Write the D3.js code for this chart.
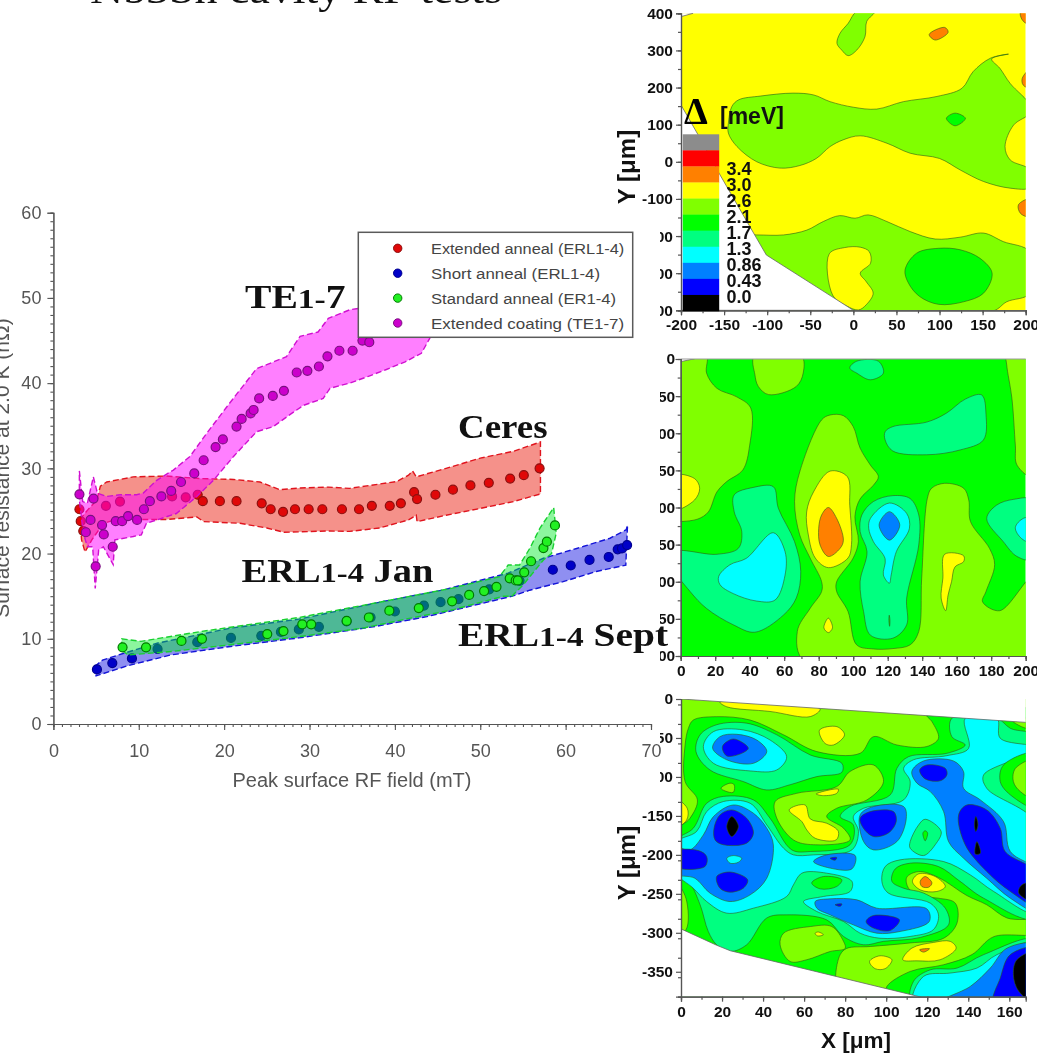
<!DOCTYPE html>
<html><head><meta charset="utf-8">
<script src="https://cdn.jsdelivr.net/npm/d3@7"></script>
<style>html,body{margin:0;padding:0;background:#fff;overflow:hidden}svg{display:block;filter:blur(.4px)}</style>
</head><body><svg id="c" width="1037" height="1055"></svg>
<script>
// ---------- left chart data: [peak field mT, surface resistance nOhm]
const redPts=[[3.05,25.2],[3.2,23.8],[3.5,22.65],[6.15,25.6],[7.8,26.1],[13.9,26.7],[15.5,26.6],[16.9,26.9],[17.5,26.15],[19.5,26.15],[21.45,26.15],[24.4,25.9],[25.45,25.2],[26.9,24.9],[28.3,25.2],[29.9,25.2],[31.5,25.2],[33.8,25.2],[35.8,25.2],[37.3,25.6],[39.4,25.6],[40.7,25.9],[42.25,27.2],[42.6,26.4],[44.75,26.9],[46.8,27.5],[48.85,28],[51,28.3],[53.5,28.8],[55.1,29.2],[56.95,30]];
const bluePts=[[5.1,6.4],[6.9,7.15],[9.2,7.7],[12.2,8.8],[16.85,9.6],[20.8,10.1],[24.35,10.35],[26.65,10.8],[28.75,11.1],[31.1,11.4],[34.35,12.05],[37.15,12.5],[40,13.2],[43.4,13.9],[45.35,14.3],[47.45,14.65],[51.05,15.8],[54.6,16.8],[58.5,18.1],[60.6,18.6],[62.8,19.25],[65.05,19.6],[66.1,20.5],[66.6,20.6],[67.2,21]];
const greenPts=[[8.1,9],[10.85,9],[15,9.75],[17.4,10],[25.05,10.55],[26.95,10.9],[29.15,11.7],[30.2,11.7],[34.35,12.1],[36.95,12.5],[39.35,13.3],[42.8,13.6],[46.7,14.4],[48.7,15.15],[50.45,15.6],[51.9,16.1],[53.45,17.1],[54.15,16.85],[54.4,16.85],[55.15,17.8],[55.95,19.1],[57.4,20.65],[57.8,21.4],[58.75,23.3]];
const magentaPts=[[3.05,26.95],[3.8,22.5],[4.35,23.95],[4.7,26.45],[4.95,18.5],[5.7,23.35],[5.9,22.25],[6.95,20.8],[7.3,23.8],[8.05,23.8],[8.75,24.4],[9.8,23.95],[10.6,25.2],[11.3,26.15],[12.65,26.7],[13.8,27.35],[14.95,28.4],[16.5,29.4],[17.6,30.95],[19,32.5],[19.85,33.4],[21.45,34.9],[22.05,35.8],[23.1,36.45],[23.45,36.85],[24.1,38.2],[25.7,38.5],[27,39.1],[28.5,41.25],[29.75,41.45],[31.1,41.95],[32.1,43.15],[33.5,43.8],[35.05,43.8],[36.2,45],[37,44.8]];
const redBand=[[3.1,24],[4,25.1],[5.1,26.3],[5.5,27.9],[6.25,28.4],[9.35,29],[13.25,29.1],[17.2,28.8],[21.1,28.7],[24.2,28.4],[26.5,27.5],[28.9,27.7],[32.2,27.8],[34.7,27.65],[37.1,28],[40.2,28.45],[41.6,29.2],[42.07,29.7],[42.5,29],[46,30],[50,31.2],[53.9,32],[57.05,33.1],[57.05,27],[53.9,26.1],[50,25.3],[46,24.5],[42.6,23.75],[42.5,24.5],[41.6,23.95],[38.2,23],[34.7,22.6],[32.2,22.65],[27,22.5],[25,23],[21.85,23.55],[17.6,23.75],[16.8,24.3],[13.25,24],[7.4,24],[5.85,23.55],[4.5,21.6],[3.7,20.2],[3.3,21.6]];
const blueBand=[[4.85,6.75],[5.75,7.5],[8.25,8.3],[12.25,9.5],[20.75,11.25],[28.75,12.3],[38.75,14.4],[45.75,15.75],[53.25,17.7],[57.4,19.45],[61.3,20.6],[65.2,21.8],[67.1,22.8],[67.25,23.35],[67.05,18.65],[63.6,17.9],[59.7,16.7],[55.8,15.7],[53.75,15],[48.75,13.8],[43.75,12.6],[37.75,11.45],[28.75,10.1],[20.75,9.1],[13.75,8.1],[8.75,6.85],[5,5.65]];
const greenBand=[[8,10],[10.25,9.7],[17.25,10.85],[28.75,12.5],[38.75,14.4],[46.75,15.95],[52.25,17.3],[53.27,18.65],[54.6,18.65],[55.8,20.6],[57,23],[58.6,25.4],[58.9,22.4],[58.35,20],[57.4,19.25],[55,16.3],[53.7,15],[52.75,15],[46.75,13.4],[41.25,12.3],[36.25,11.25],[28.75,10.25],[20.75,9.3],[13.75,8.5],[8.75,8.1],[8,8.7]];
const magentaBand=[[3.04,29.7],[3.43,26.1],[3.98,25.9],[4.68,29],[5.15,27.1],[6.24,26.7],[7.8,26.9],[9.75,26.9],[10.53,27.1],[12.1,28.6],[14.05,29.8],[16,31.4],[17.95,34.1],[20.3,37.2],[21.85,39.2],[23.8,41.7],[27.3,43.1],[28.9,45.5],[31,46],[32.2,47.6],[34.7,48.6],[35.9,48.8],[40,50],[44,50],[44.1,45.3],[43.1,43.5],[41.2,42.5],[39,41.6],[36.9,40.8],[34.7,40],[32.4,39.4],[31.6,38.2],[29.3,37.4],[27.7,36.3],[25.75,34.9],[23.8,34.3],[21.1,31.4],[18.75,28.6],[16.8,26.7],[14.4,24.7],[10.9,23.55],[10.3,22.2],[9.35,22],[7.2,21.6],[7,18.7],[5.85,20.8],[5.3,20.4],[4.9,15.9],[4.6,20.8],[3.98,20.8],[3.5,22.4],[3.04,26.3]];
const seriesNames=["Extended anneal (ERL1-4)","Short anneal (ERL1-4)","Standard anneal (ER1-4)","Extended coating (TE1-7)"];
const xTicks=[0,10,20,30,40,50,60,70], yTicks=[0,10,20,30,40,50,60];
const minorX=d3.range(0,71), minorY=d3.range(0,61);
const seriesFill=["#e00808","#0000c8","#22f022","#cc00cc"];
const seriesStroke=["#8c1010","#000090","#007a00","#7a1080"];
const bandFill=["rgba(235,45,30,.52)","rgba(20,20,225,.48)","rgba(0,235,40,.45)","rgba(255,0,255,.5)"];
const bandStroke=["#e0141e","#1414d8","#18d030","#d010d0"];

// ---------- gap map data
const levelNames=["gray","red","orange","yellow","lime","green","spring","cyan","azure","blue","black"];
const levelColors=["#8c8c8c","#ff0000","#ff8000","#ffff00","#80ff00","#00ff00","#00ff80","#00ffff","#0080ff","#0000ff","#000000"];
const levelLabels=["3.4","3.0","2.6","2.1","1.7","1.3","0.86","0.43","0.0"];
const L={orange:2,yellow:3,lime:4,green:5,spring:6,cyan:7,azure:8,blue:9,black:10};

const map1Base=L.yellow;
const map1Regions=[
 [L.lime,[[3.9,405],[25,405],[15.5,378],[13.5,337],[4,301],[-6,286],[-13.5,301],[-19,319],[-15.5,346],[-6,373]]],
 [L.lime,[[-145,104],[-141,149],[-133,167],[-108,177],[-70,185],[-46,180],[-27,162],[0,147],[27,142],[58,162],[97,176],[126,198],[139,243],[159,279],[180,290],[160.5,277],[170,252],[182,211],[205,153],[205,131],[186,99],[176,41],[182,5],[205,-22],[205,-69],[182,-71],[151,-53],[124,-22],[100,9],[66,23],[39,50],[8,70],[-12,59],[-27,41],[-43,9],[-62,-10],[-85,-17],[-112,0],[-135,41],[-145,77]]],
 [L.lime,[[-135,-197],[-112,-197],[-81,-197],[-54,-184],[-35,-161],[-16,-145],[2,-152],[17,-143],[39,-161],[66,-188],[95,-208],[124,-203],[151,-192],[174,-215],[205,-243],[205,-354],[178,-377],[162,-402],[40,-410],[-50,-410],[-135,-410]]],
 [L.yellow,[[-28,-248],[-10,-231],[8,-230],[18.5,-242],[20,-273],[8,-300],[15,-323],[23,-354],[15,-385],[6,-399],[-8,-388],[-24,-359]]],
 [L.green,[[60,-291],[73.5,-246],[99,-233],[124,-237],[147,-260],[161,-300],[151,-354],[128,-377],[99,-384],[77,-363],[64,-327]]],
 [L.green,[[108,117],[118,131],[130,117],[118,97]]],
 [L.orange,[[88,343],[106,362],[110,349],[95,328]]],
 [L.orange,[[194,405],[205,405],[205,369],[196,382]]],
 [L.orange,[[196,225],[205,249],[205,198],[197,207]]],
 [L.orange,[[191.5,-116],[205,-100],[205,-148],[194,-139]]]
];
const map1Outside=[[[-205,153],[-200,153],[-180,72],[-157,-26],[-120,-175],[-101,-251],[-25,-363],[0,-400],[-205,-400]],[[-205,405],[-186,400],[-200,391],[-205,391]]];

const map2Base=L.green;
const map2Regions=[
 [L.lime,[[-3,-3],[7.3,0],[15,3],[15,-19],[21,-39.5],[32.5,-51],[40.6,-66],[40,-116],[36,-149.5],[26.7,-165],[21,-179],[16,-206],[10,-215.5],[0,-219],[-4,-219]]],
 [L.yellow,[[-4,-157],[8,-161],[11,-174],[8,-190],[-4,-203]]],
 [L.lime,[[42.7,4],[70,4],[71,-19],[67,-37],[51,-48],[45,-37],[43,-21]]],
 [L.spring,[[98,-12],[102,-3],[114.6,-3],[117.5,-19],[110,-28],[102,-19]]],
 [L.spring,[[118.5,-98],[123,-91],[142.6,-85],[154,-73],[165,-54],[174.5,-48.5],[177,-75],[175.5,-109],[162,-122.5],[142.6,-129],[123,-124],[118.5,-109]]],
 [L.lime,[[189,4],[205,4],[205,-160],[195,-143],[194,-116],[192,-53],[189,-8]]],
 [L.lime,[[86.6,-75.4],[94.3,-76.3],[100,-91],[104,-120],[110,-143],[114.6,-158.5],[111.7,-170],[104,-188.5],[101,-212],[103,-246],[100,-268],[90.4,-300],[90.4,-313],[97,-340],[102,-385],[111.7,-390.5],[123,-390],[133,-385],[138,-367],[139.7,-295],[143,-187.6],[145.5,-174],[153,-167.4],[164,-174],[167,-190],[168,-219],[179,-255],[182,-277],[177,-313],[175,-327],[185,-339],[205,-292],[205,-408],[72,-408],[67.6,-367],[75,-336],[81.7,-313],[81.7,-300],[75,-268],[69,-237],[66,-192],[69,-152],[81.7,-82]]],
 [L.yellow,[[86.6,-151],[96.6,-158.5],[98,-197],[99,-250],[97,-268],[85.6,-281],[78,-268],[74,-237],[73,-206],[77,-179]]],
 [L.orange,[[85.6,-200],[90.4,-214.6],[94.3,-244],[92.4,-255],[85.6,-266],[80.8,-250.5],[80,-228],[81.7,-210]]],
 [L.yellow,[[85.6,-349],[88,-362],[85.6,-368.5],[83,-362]]],
 [L.spring,[[-4,-260],[21,-263],[33.4,-255],[35.4,-232.5],[31,-205.6],[31,-183],[42,-173],[53.7,-172],[56.6,-201],[66,-246],[69.6,-286],[67,-322],[59.5,-345],[43,-368],[30.5,-358],[15,-336],[5.4,-313],[-4,-282]]],
 [L.cyan,[[22,-293],[28.6,-277],[38,-268.5],[53.7,-234],[60.5,-259.5],[60.5,-291],[54.7,-324.6],[44,-326],[30.5,-316],[22.8,-304]]],
 [L.spring,[[105,-210],[111.7,-192],[123,-184],[133,-188],[138,-210],[138,-250.5],[131,-322],[131,-358],[123,-376],[110,-372],[106,-340],[104,-300],[108,-259.5],[104,-232.5]]],
 [L.cyan,[[110,-214.6],[121,-194],[131,-208],[132.6,-228],[125,-259.5],[122,-291],[121,-302],[117.5,-291],[118.5,-269],[111.7,-246],[109,-228]]],
 [L.azure,[[121,-205.6],[127,-223.5],[121,-244],[115,-223.5]]],
 [L.green,[[120.9,-345],[121.3,-352],[121.1,-360],[120.7,-352]]],
 [L.spring,[[177.4,-215],[183,-197],[193,-189],[205,-190],[205,-270],[195,-266],[187,-246]]],
 [L.cyan,[[194,-227],[198.7,-214.6],[205,-214],[205,-248],[197.7,-242]]],
 [L.yellow,[[153,-263],[164,-265],[164,-273],[159,-280],[157,-300],[155,-318],[153.6,-339],[151,-322],[152,-295]]]
];
const map2Outside=[[[-4,4],[7,4],[7.3,0],[0,-3.6],[-4,-3.6]]];

const map3Base=L.lime;
const map3Regions=[
 [L.yellow,[[19,-4],[67.8,-13],[63,-22.6],[43.4,-16],[22.3,-10]]],
 [L.yellow,[[67.5,-40],[76,-35.5],[79.7,-46],[74.3,-59],[70.2,-57]]],
 [L.yellow,[[-3,-128],[3,-140],[2.8,-155],[-3,-166]]],
 [L.green,[[3.6,-37.6],[6,-27],[17.4,-22.7],[33.7,-27],[50,-46],[66.2,-67.5],[87.3,-69.7],[93.8,-48.3],[105.2,-59],[119.8,-61],[125.5,-50.4],[122.3,-29],[119.8,-20.5],[174,-20.5],[174,-392],[-4,-392],[-4,-174.4],[4.4,-153],[8,-129.5],[2,-106],[2,-59]]],
 [L.lime,[[-3,-234],[2.4,-255.6],[2.4,-296],[-3,-300]]],
 [L.lime,[[75.4,-354],[77.6,-328],[80.8,-320],[92.2,-317.6],[111.7,-313],[128,-307],[134.5,-287.6],[133.7,-262],[125.5,-255.6],[116.6,-253.4],[110.9,-242.8],[110,-229],[115.8,-221.4],[125.5,-229],[139.3,-252.2],[149,-264],[158.9,-281],[174,-286],[174,-300.5],[152.4,-305],[141.8,-328],[128,-341],[111.7,-349.6],[100.3,-369],[100,-380],[76,-365]]],
 [L.lime,[[48.3,-315.4],[50,-300.5],[63,-292],[73.5,-292],[79.2,-311],[80,-320],[72.7,-324],[61.3,-334.6],[53.2,-336.8]]],
 [L.yellow,[[65.4,-300.5],[67,-299],[69.4,-302.6],[66.5,-304]]],
 [L.lime,[[161.3,-27],[174,-27],[174,-39.7],[166,-35.5]]],
 [L.lime,[[19.5,-114.5],[23.9,-108],[25.9,-110],[25.5,-119.7],[21.5,-118]]],
 [L.lime,[[45.9,-131.6],[56.4,-121],[75.9,-112.4],[82.4,-93],[93.8,-84.6],[98.7,-106],[90.6,-129.5],[75.9,-140.2],[71,-150.9],[79.2,-165.8],[82.4,-180.8],[64.6,-187],[54.8,-180.8],[46.7,-153]]],
 [L.yellow,[[52.7,-142.3],[60.5,-136],[63,-153.9],[71,-159.4],[76.7,-170],[75.6,-180.8],[65.4,-178.7],[61.3,-168],[58.9,-157.3]]],
 [L.yellow,[[65.9,-121.8],[76.7,-115.8],[75.9,-121],[69.4,-124]]],
 [L.yellow,[[91.9,-336.8],[97,-329.5],[102.8,-334.6],[99.5,-346],[94.6,-346]]],
 [L.yellow,[[108.1,-334.6],[112.5,-319.7],[123,-312.4],[131.2,-311],[134.1,-319.7],[126.3,-334.6],[115,-336]]],
 [L.orange,[[116.3,-321.8],[121.1,-320.5],[118.2,-324.8]]],
 [L.yellow,[[112.8,-234],[115.8,-224.4],[123.9,-227.8],[128.8,-240.6],[124.7,-247],[116.6,-244.9]]],
 [L.orange,[[116.6,-234],[119,-227.8],[122.3,-236],[120.7,-241.5],[117.4,-240.6]]],
 [L.spring,[[-3,-183],[6,-165.8],[12.5,-133.8],[20.6,-125],[35.3,-129.5],[43.4,-153],[54,-193.6],[63,-195.7],[82.4,-187],[84,-161.6],[77.6,-150.9],[82.4,-138],[102,-123],[105.2,-89],[110.9,-74],[129.6,-69.7],[138.5,-59],[132,-48.3],[132,-24.8],[154,-24.8],[160.5,-37.6],[174,-50.4],[174,-281],[147.5,-255.6],[136,-234],[125.5,-215],[111.7,-210.7],[104.4,-218],[102.8,-234],[108.5,-242.8],[118.2,-249],[128.8,-268.4],[130.4,-289.8],[116.6,-306],[98.7,-311],[89,-315.4],[79.2,-304.7],[71,-283.4],[51.5,-277],[41.8,-281],[32,-315.4],[24,-324],[17.4,-315.4],[13.3,-298.3],[9.3,-264],[3.6,-234],[-3,-225.7]]],
 [L.green,[[63.7,-236],[69.4,-227.8],[78.4,-232],[75.9,-240.6],[67.8,-243.6]]],
 [L.cyan,[[-3,-185],[7.6,-170],[12.5,-144.5],[20.6,-131.6],[33.7,-133.8],[41.8,-161.6],[50,-191.5],[54.8,-200],[64.6,-200],[83.3,-193.6],[86.5,-170],[84,-150.9],[89,-140.2],[108.5,-129.5],[111.7,-106],[108.5,-89],[113.3,-78],[129.6,-72.7],[140.2,-63.3],[138.5,-24.8],[154,-24.8],[155.6,-50.4],[174,-63.3],[147.5,-97.4],[149,-114.5],[174,-161.6],[174,-274.8],[152.4,-247],[141,-225.7],[128,-208.6],[106.8,-206.4],[99.5,-215],[97.9,-234],[101,-249],[121.5,-262],[125.5,-277],[123,-296],[111.7,-304.7],[97,-307],[87.3,-300.5],[79.2,-285.5],[66.2,-272.7],[59.7,-259.9],[69.4,-253.4],[82.4,-247],[83.3,-234],[71,-223.5],[58.9,-223.5],[54.8,-238.5],[51.5,-253.4],[35.3,-268.4],[22.3,-274.8],[12.5,-259.9],[6,-242.8],[-3,-221.4]]],
 [L.green,[[155.6,-106],[157.2,-84.6],[174,-69.7],[174,-140],[160.5,-123]]],
 [L.lime,[[162,-106],[163,-89],[174,-77],[174,-129.5],[165.4,-118.8]]],
 [L.spring,[[7.3,-67.5],[9.3,-46],[17.4,-33],[32,-31],[46.7,-46],[63,-71.8],[78.4,-82.5],[78.4,-94],[66.2,-99.6],[53.2,-110],[41.8,-116.7],[30.4,-106],[14.1,-91]]],
 [L.cyan,[[10.9,-61],[15.8,-41.9],[30.4,-39.7],[43.4,-52.6],[51.5,-74],[46.7,-91],[33.7,-92.3],[15.8,-82.5]]],
 [L.azure,[[15.4,-63],[19,-48.3],[27.2,-45.3],[36.9,-52.6],[41.8,-67.5],[35.3,-82.5],[22.3,-78]]],
 [L.blue,[[20.2,-61],[25.5,-51.3],[32.8,-63],[29.6,-69.7],[22.3,-73]]],
 [L.azure,[[87.3,-148.7],[93.8,-138],[108.5,-138],[109.8,-153],[105.2,-183],[93.8,-193.6],[89,-183]]],
 [L.blue,[[87.3,-153],[92.2,-144.5],[103.6,-144.5],[104.9,-157.3],[101.1,-172],[93.8,-176.5],[88.9,-165.8]]],
 [L.azure,[[64.6,-208.6],[71,-200],[84.9,-200.9],[83.3,-218],[72.7,-217]]],
 [L.blue,[[72.7,-204.3],[75.9,-203.4],[75.1,-206.9]]],
 [L.spring,[[111.7,-183],[115.8,-161.6],[119,-154.3],[126.8,-170],[123.9,-187],[118.2,-200.9],[111.7,-191.5]]],
 [L.green,[[117.9,-172],[119,-169],[120.2,-172],[119,-182]]],
 [L.azure,[[112.5,-93],[118.2,-79.5],[132.8,-79.5],[137.7,-93],[137.7,-114.5],[145.9,-129.5],[157.2,-157.3],[160.5,-195.7],[174,-221.4],[174,-272.7],[160.5,-255.6],[149,-230],[137.7,-204.3],[130.4,-183],[128,-144.5],[121.5,-118.8],[115,-108]]],
 [L.blue,[[116.3,-91],[119.8,-84.6],[128.8,-88.9],[129.6,-97.4],[126.3,-105],[119,-102.6]]],
 [L.blue,[[135.3,-148.7],[139.3,-136],[149,-142.3],[155.6,-165.8],[158,-195.7],[174,-223.5],[174,-266],[160.5,-247],[149,-221.4],[138.5,-187]]],
 [L.black,[[143.7,-150.9],[144.7,-161.6],[143.7,-170],[143,-161.6]]],
 [L.black,[[144.2,-183],[145.9,-197.9],[143.4,-199]]],
 [L.black,[[174,-236],[166.2,-238.5],[164.6,-249],[174,-262]]],
 [L.azure,[[-3,-190.6],[4.4,-193.6],[10.9,-174.4],[15.8,-150.9],[25.5,-136],[35.3,-146.6],[41.8,-165.8],[45,-187],[41.8,-230],[33.7,-251.3],[23.9,-259.9],[14.1,-249],[6.8,-230],[-3,-223.5]]],
 [L.blue,[[16.1,-165.8],[19,-148.7],[24.7,-142.3],[32,-153],[35.3,-172],[32,-185],[20.6,-187],[16.6,-180.8]]],
 [L.black,[[24.7,-150.9],[28,-163.7],[24.7,-176.5],[22.3,-163.7]]],
 [L.cyan,[[22.3,-204.3],[25.5,-200.9],[29.6,-204.3],[28,-209.4],[23.9,-210.7]]],
 [L.blue,[[-3,-195.7],[8.5,-194.5],[12.5,-202],[11.7,-215],[-3,-215]]],
 [L.blue,[[17.4,-227.8],[23.9,-222],[32.5,-232],[30.4,-242.8],[23.9,-247.9],[19,-242.8]]],
 [L.azure,[[65.4,-259.9],[72.7,-256.4],[85.7,-257.7],[95.4,-268.4],[119.8,-269.3],[121,-285.5],[106.8,-298.3],[95.4,-300.5],[84,-289.8],[72.7,-277],[66.2,-268.4]]],
 [L.blue,[[90.2,-285.5],[93.8,-277.8],[106.5,-283.4],[102,-297],[93.8,-294]]],
 [L.blue,[[75.1,-264],[78.4,-263],[77.6,-266]]],
 [L.spring,[[112.5,-390],[113.3,-362.4],[121.5,-347.5],[134.5,-345.3],[147.5,-328],[174,-309],[174,-392]]],
 [L.cyan,[[113.3,-390],[118.2,-356],[131.2,-351.7],[144.2,-345.3],[154,-328],[174,-313],[174,-392]]],
 [L.azure,[[125.5,-390],[141,-368.8],[150.7,-345.3],[158.9,-319.7],[174,-316],[174,-392]]],
 [L.blue,[[152.4,-390],[155.6,-358],[160.5,-328],[174,-319.7],[174,-392]]],
 [L.black,[[174,-324],[163.7,-334.6],[162,-353.9],[164.6,-375],[174,-392]]]
];
const map3Outside=[[[-4,0],[0,0],[168,-30],[174,-30],[174,8],[-4,8]],[[-4,-293],[0,-295],[17.4,-316],[24,-323],[117,-382.5],[117,-392],[-4,-392]]];

const map1XTicks=[-200,-150,-100,-50,0,50,100,150,200], map1YTicks=[400,300,200,100,0,-100,-200,-300,-400];
const map2XTicks=[0,20,40,60,80,100,120,140,160,180,200], map2YTicks=[0,-50,-100,-150,-200,-250,-300,-350,-400];
const map3XTicks=[0,20,40,60,80,100,120,140,160], map3YTicks=[0,-50,-100,-150,-200,-250,-300,-350];

// ---------- drawing
const svg=d3.select("#c");
const sans="'Liberation Sans',Arial,sans-serif", serif="'Liberation Serif',serif";

function drawMap(id,box,xDom,yDom,base,regions,outside,xMaj,yMaj,xStep,yStep,tickOpts){
  const x=d3.scaleLinear().domain(xDom).range([box.l,box.r]);
  const y=d3.scaleLinear().domain(yDom).range([box.t,box.b]);
  const g=svg.append("g");
  const defs=g.append("defs");
  defs.append("clipPath").attr("id",id).append("rect").attr("x",box.l).attr("y",box.t).attr("width",box.r-box.l).attr("height",box.b-box.t);
  const plot=g.append("g").attr("clip-path",`url(#${id})`);
  plot.append("rect").attr("x",box.l).attr("y",box.t).attr("width",box.r-box.l).attr("height",box.b-box.t).attr("fill",levelColors[base]);
  const smooth=d3.line().x(d=>x(d[0])).y(d=>y(d[1])).curve(d3.curveCatmullRomClosed.alpha(.5));
  const straight=d3.line().x(d=>x(d[0])).y(d=>y(d[1])).curve(d3.curveLinearClosed);
  plot.selectAll("path.r").data(regions).join("path").attr("class","r")
    .attr("d",d=>smooth(d[1])).attr("fill",d=>levelColors[d[0]])
    .attr("stroke","#2f5a18").attr("stroke-width",.7).attr("stroke-opacity",.85);
  plot.selectAll("path.o").data(outside).join("path").attr("class","o")
    .attr("d",d=>straight(d)).attr("fill","#fff").attr("stroke","#666").attr("stroke-width",.8);
  g.append("path").attr("d",`M${box.l},${box.t}H${box.r}`).attr("stroke","#9a9a9a").attr("stroke-width",tickOpts.top?1:0);
  const ax=d3.axisBottom(x).tickValues(xMaj).tickSize(5).tickFormat(d=>String(d));
  const axM=d3.axisBottom(x).tickValues(d3.range(xDom[0],xDom[1]+.01,xStep)).tickSize(3).tickFormat("");
  const ay=d3.axisLeft(y).tickValues(yMaj).tickSize(5).tickFormat(d=>String(d));
  const ayM=d3.axisLeft(y).tickValues(d3.range(yDom[1],yDom[0]+.01,yStep)).tickSize(3).tickFormat("");
  const st=s=>{s.selectAll(".domain,line").attr("stroke","#555").attr("stroke-width",1.2);
    s.selectAll("text").attr("fill","#111").attr("font-family",sans).attr("font-size",15.5).attr("font-weight","bold");};
  g.append("g").attr("transform",`translate(0,${box.b})`).call(axM).call(st);
  g.append("g").attr("transform",`translate(0,${box.b})`).call(ax).call(st).selectAll("text").attr("dy",0).attr("y",20).attr("dominant-baseline","auto");
  g.append("g").attr("transform",`translate(${box.l},0)`).call(ayM).call(st);
  g.append("g").attr("transform",`translate(${box.l},0)`).call(ay).call(st).selectAll("text").attr("x",tickOpts.pad);
  return {x,y,g};
}

const m1=drawMap("m1",{l:681,r:1025.7,t:13.3,b:310.3},[-200,200],[400,-400],map1Base,map1Regions,map1Outside,map1XTicks,map1YTicks,25,50,{pad:-8});
const m2=drawMap("m2",{l:680.7,r:1025.7,t:359,b:656},[0,200],[0,-400],map2Base,map2Regions,map2Outside,map2XTicks,map2YTicks,10,25,{top:1,pad:-5.5});
const m3=drawMap("m3",{l:681,r:1025.7,t:699,b:996.7},[0,168],[0,-382],map3Base,map3Regions,map3Outside,map3XTicks,map3YTicks,10,25,{pad:-8});

// colour legend in the top map
const legScale=d3.scaleBand().domain(levelNames).range([134.3,311]).padding(0);
const leg=svg.append("g");
leg.selectAll("rect").data(levelNames).join("rect")
  .attr("x",682.7).attr("width",36.5).attr("y",d=>legScale(d)).attr("height",legScale.bandwidth()+.3)
  .attr("fill",(d,i)=>levelColors[i]);
const labelY=d3.scalePoint().domain(levelLabels).range([174.5,302.5]);
leg.selectAll("text").data(levelLabels).join("text")
  .attr("x",726.5).attr("y",d=>labelY(d)).text(d=>d)
  .attr("font-family",sans).attr("font-weight","bold").attr("font-size",18).attr("fill","#111");
svg.append("text").attr("x",684).attr("y",124).text("Δ").attr("font-family",serif).attr("font-weight","bold").attr("font-size",38).attr("fill","#000");
svg.append("text").attr("x",720).attr("y",124).text("[meV]").attr("font-family",sans).attr("font-weight","bold").attr("font-size",23).attr("fill","#111");

const axisLab=(t,x,y,rot,s)=>svg.append("text").attr("transform",`translate(${x},${y}) rotate(${rot})`).attr("text-anchor","middle").text(t)
  .attr("font-family",sans).attr("font-weight","bold").attr("font-size",s).attr("fill","#111");
axisLab("Y [μm]",635,167,-90,24);
axisLab("Y [μm]",635,863,-90,24);
axisLab("X [μm]",856,1048,0,22.5);

// white backdrop of the pasted left chart, it hides the start of the tick labels
svg.append("rect").attr("x",0).attr("y",206).attr("width",660).attr("height",590).attr("fill","#fff");

// title clipped by the top edge
svg.append("text").attr("x",90).attr("y",3).attr("textLength",412).attr("lengthAdjust","spacingAndGlyphs")
  .text("Nb3Sn cavity RF tests").attr("font-family",serif).attr("font-size",40).attr("fill","#111");

// left chart
const xS=d3.scaleLinear().domain([0,70]).range([53.4,651]);
const yS=d3.scaleLinear().domain([0,60]).range([724,212.7]);
const chart=svg.append("g");
const styleAxis=s=>{s.selectAll(".domain,line").attr("stroke","#555").attr("stroke-width",1.1);
  s.selectAll("text").attr("fill","#555").attr("font-family",sans).attr("font-size",18);};
chart.append("g").attr("transform","translate(0,724)").call(d3.axisBottom(xS).tickValues(minorX).tickSize(3).tickFormat("")).call(styleAxis);
chart.append("g").attr("transform","translate(0,724)").call(d3.axisBottom(xS).tickValues(xTicks).tickSize(6).tickPadding(14)).call(styleAxis);
chart.append("g").attr("transform","translate(53.4,0)").call(d3.axisLeft(yS).tickValues(minorY).tickSize(3).tickFormat("")).call(styleAxis);
chart.append("g").attr("transform","translate(53.4,0)").call(d3.axisLeft(yS).tickValues(yTicks).tickSize(6).tickPadding(6)).call(styleAxis);
chart.append("text").attr("x",352).attr("y",787).attr("text-anchor","middle").text("Peak surface RF field (mT)")
  .attr("font-family",sans).attr("font-size",20).attr("fill","#555");
chart.append("text").attr("transform","translate(9,468) rotate(-90)").attr("text-anchor","middle").text("Surface resistance at 2.0 K (nΩ)")
  .attr("font-family",sans).attr("font-size",21).attr("fill","#555");

const bandLine=d3.line().x(d=>xS(d[0])).y(d=>yS(d[1])).curve(d3.curveLinearClosed);
const layers=[[redBand,redPts],[blueBand,bluePts],[greenBand,greenPts],[magentaBand,magentaPts]];
layers.forEach(([band,pts],i)=>{
  chart.append("path").attr("d",bandLine(band)).attr("fill",bandFill[i]).attr("stroke",bandStroke[i])
    .attr("stroke-width",1.4).attr("stroke-dasharray","6 3");
  chart.append("g").selectAll("circle").data(pts).join("circle")
    .attr("cx",d=>xS(d[0])).attr("cy",d=>yS(d[1])).attr("r",4.5)
    .attr("fill",seriesFill[i]).attr("stroke",seriesStroke[i]).attr("stroke-width",1.2);
});

// legend of the left chart
const lg=svg.append("g");
lg.append("rect").attr("x",358.3).attr("y",232.3).attr("width",274.4).attr("height",105).attr("fill","#fff").attr("stroke","#5a5a5a").attr("stroke-width",1.5);
const rowY=d3.scalePoint().domain(seriesNames).range([248.3,323]);
seriesNames.forEach((n,i)=>{
  lg.append("circle").attr("cx",397.7).attr("cy",rowY(n)).attr("r",4.2).attr("fill",seriesFill[i]).attr("stroke",seriesStroke[i]);
  lg.append("text").attr("x",431).attr("y",rowY(n)+5.5).text(n).attr("textLength",n.length*8.05).attr("lengthAdjust","spacingAndGlyphs")
    .attr("font-family",sans).attr("font-size",15.5).attr("fill","#444");
});

// serif annotations
const notes=[["TE",'1-',"7",245,308,1.2],["ERL",'1-4'," Jan",241.5,582,1.165],["ERL",'1-4'," Sept",458,646,1.195]];
notes.forEach(([a,b,c,x,y,sx])=>{
  const t=svg.append("text").attr("transform",`translate(${x},${y}) scale(${sx},1)`).attr("font-family",serif).attr("font-weight","bold").attr("font-size",33).attr("fill","#111").attr("xml:space","preserve");
  t.append("tspan").text(a);
  t.append("tspan").attr("font-size",28).text(b);
  t.append("tspan").text(c);
});
svg.append("text").attr("transform","translate(458,438) scale(1.12,1)").text("Ceres").attr("font-family",serif).attr("font-weight","bold").attr("font-size",33).attr("fill","#111");
</script></body></html>
